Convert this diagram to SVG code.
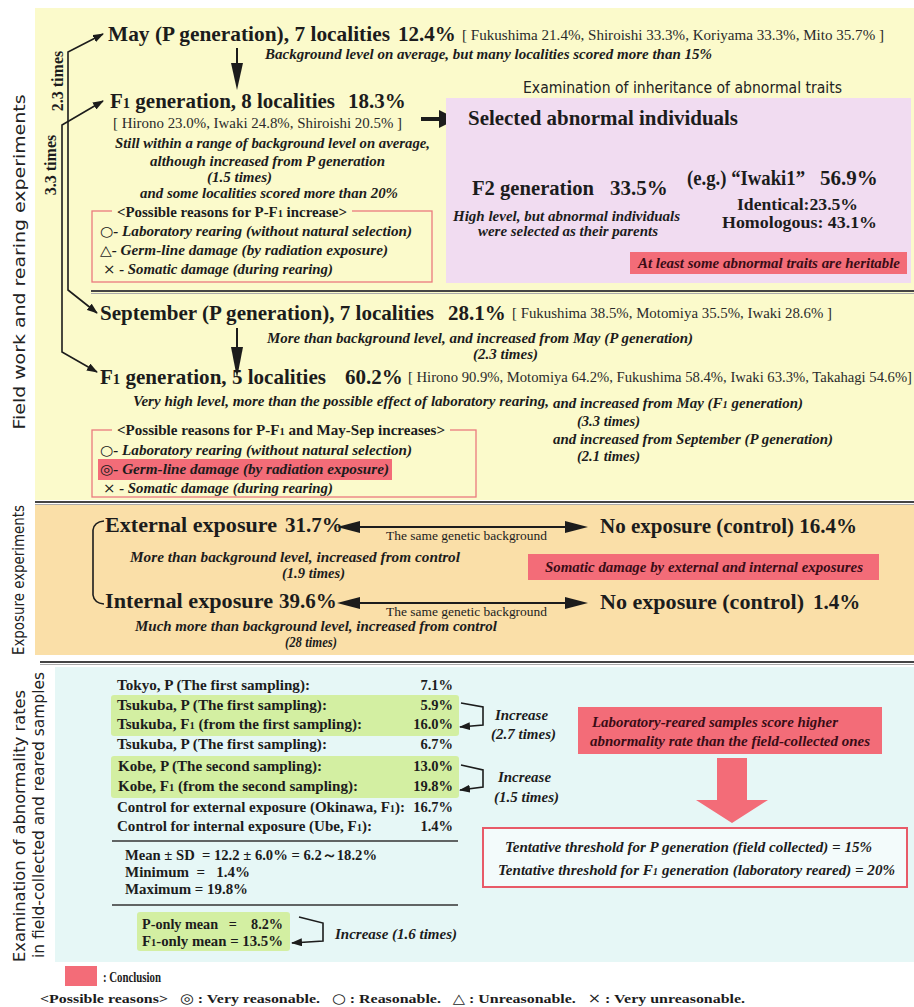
<svg xmlns="http://www.w3.org/2000/svg" width="914" height="1007" viewBox="0 0 914 1007">
<defs>
<style>
.t{font-family:"Liberation Serif","Times New Roman",serif;fill:#1c1c1c}
.h{font-size:21px;font-weight:bold}
.bi{font-size:14px;font-weight:bold;font-style:italic}
.r{font-size:14px;fill:#2a2a2a}
.b{font-size:14.5px;font-weight:bold}
.s{font-family:"DejaVu Sans",sans-serif;font-weight:normal;font-style:normal}
.lab{font-family:"DejaVu Sans","Noto Sans",sans-serif;fill:#222;font-size:15px}
.sub{font-size:70%}
.ln{stroke:#1c1c1c;stroke-width:1.6;fill:none}
.rb{fill:none;stroke:#ea7a7e;stroke-width:1.3}
.red{fill:#f36c78}
.grn{fill:#d3efa2}
.dred{fill:#3a0c16}
</style>
<marker id="ah" viewBox="0 0 11 8" refX="10" refY="4" markerWidth="11" markerHeight="8" markerUnits="userSpaceOnUse" orient="auto-start-reverse"><path d="M0,0 L11,4 L0,8 z" fill="#1c1c1c"/></marker>
</defs>

<g id="panels">
<rect x="35" y="8" width="879" height="492" fill="#fbfacb"/>
<rect x="35" y="505" width="879" height="150" fill="#fadfa8"/>
<rect x="55" y="667" width="859" height="295" fill="#e6f7f6"/>
<line x1="35" y1="502" x2="914" y2="502" stroke="#444" stroke-width="2"/>
<line x1="35" y1="504.5" x2="914" y2="504.5" stroke="#aaa" stroke-width="1"/>
<line x1="40" y1="662" x2="914" y2="662" stroke="#444" stroke-width="2"/>
<line x1="40" y1="664.5" x2="914" y2="664.5" stroke="#aaa" stroke-width="1"/>
<line x1="91" y1="291" x2="914" y2="291" stroke="#444" stroke-width="2"/>
<line x1="91" y1="293.5" x2="914" y2="293.5" stroke="#aaa" stroke-width="1"/>
</g>

<g id="side-labels">
<text class="lab" transform="translate(25,262) rotate(-90)" text-anchor="middle" textLength="335" lengthAdjust="spacingAndGlyphs">Field work and rearing experiments</text>
<text class="lab" transform="translate(24,580) rotate(-90)" text-anchor="middle" textLength="150" lengthAdjust="spacingAndGlyphs">Exposure experiments</text>
<text class="lab" transform="translate(25,826) rotate(-90)" text-anchor="middle" textLength="272" lengthAdjust="spacingAndGlyphs">Examination of abnormality rates</text>
<text class="lab" transform="translate(44,815) rotate(-90)" text-anchor="middle" textLength="286" lengthAdjust="spacingAndGlyphs">in field-collected and reared samples</text>
</g>

<g id="connectors">
<path class="ln" d="M103,34 L68,52 L68,290 L97,313" marker-start="url(#ah)" marker-end="url(#ah)"/>
<path class="ln" d="M103,101 L62,125 L62,352 L97,372" marker-start="url(#ah)" marker-end="url(#ah)"/>
<text class="t" font-size="16" font-weight="bold" transform="translate(63,81) rotate(-90)" text-anchor="middle">2.3 times</text>
<text class="t" font-size="16" font-weight="bold" transform="translate(56,165) rotate(-90)" text-anchor="middle">3.3 times</text>
<line x1="237" y1="48" x2="237" y2="66" stroke="#1c1c1c" stroke-width="2"/>
<polygon points="231,63 243,63 237,90" fill="#1c1c1c"/>
<line x1="237" y1="328" x2="237" y2="350" stroke="#1c1c1c" stroke-width="2"/>
<polygon points="231,347 243,347 237,378" fill="#1c1c1c"/>
<line x1="555" y1="135" x2="555" y2="150" stroke="#1c1c1c" stroke-width="2"/>
<polygon points="549,147 561,147 555,173" fill="#1c1c1c"/>
<line x1="421" y1="119" x2="442" y2="119" stroke="#1c1c1c" stroke-width="4"/>
<polygon points="439,110 439,128 457,119" fill="#1c1c1c"/>
<path class="ln" d="M104,521 Q94,522 93,530 L93,595 Q94,603 104,604" stroke-width="1.3"/>
<line x1="356" y1="527" x2="570" y2="527" stroke="#1c1c1c" stroke-width="2"/>
<polygon points="337,527 360,521 360,533" fill="#1c1c1c"/>
<polygon points="588,527 565,521 565,533" fill="#1c1c1c"/>
<line x1="356" y1="603" x2="570" y2="603" stroke="#1c1c1c" stroke-width="2"/>
<polygon points="337,603 360,597 360,609" fill="#1c1c1c"/>
<polygon points="588,603 565,597 565,609" fill="#1c1c1c"/>
<path class="ln" d="M461,703 L483,707 L483,725 L460,727" stroke-width="1.3" marker-end="url(#ah)"/>
<path class="ln" d="M461,765 L483,770 L483,787 L460,790" stroke-width="1.3" marker-end="url(#ah)"/>
<path class="ln" d="M299,917 L323,923 L323,941 L292,943" stroke-width="1.3" marker-end="url(#ah)"/>
<polygon class="red" points="717,758 747,758 747,800 768,800 732,823 696,800 717,800"/>
</g>

<g id="may">
<text class="t h" x="108" y="41" textLength="282" lengthAdjust="spacingAndGlyphs">May (P generation), 7 localities</text>
<text class="t h" x="398" y="41">12.4%</text>
<text class="t r" x="462" y="40" textLength="422" lengthAdjust="spacingAndGlyphs">[ Fukushima 21.4%, Shiroishi 33.3%, Koriyama 33.3%, Mito 35.7% ]</text>
<text class="t bi" x="265" y="59" textLength="447" lengthAdjust="spacingAndGlyphs">Background level on average, but many localities scored more than 15%</text>
</g>

<g id="f1-may">
<text class="t h" x="110" y="108" textLength="225" lengthAdjust="spacingAndGlyphs">F<tspan class="sub">1</tspan> generation, 8 localities</text>
<text class="t h" x="348" y="108">18.3%</text>
<text class="t r" x="113" y="128" textLength="289" lengthAdjust="spacingAndGlyphs">[ Hirono 23.0%, Iwaki 24.8%, Shiroishi 20.5% ]</text>
<text class="t bi" x="115" y="148" textLength="315" lengthAdjust="spacingAndGlyphs">Still within a range of background level on average,</text>
<text class="t bi" x="150" y="166" textLength="235" lengthAdjust="spacingAndGlyphs">although increased from P generation</text>
<text class="t bi" x="207" y="182" textLength="65" lengthAdjust="spacingAndGlyphs">(1.5 times)</text>
<text class="t bi" x="140" y="198" textLength="258" lengthAdjust="spacingAndGlyphs">and some localities scored more than 20%</text>
</g>

<g id="reasons-1">
<rect class="rb" x="92" y="211" width="340" height="71"/>
<rect x="112" y="204" width="240" height="14" fill="#fbfacb"/>
<text class="t" font-size="14.5" font-weight="bold" x="117" y="217" textLength="230" lengthAdjust="spacingAndGlyphs">&lt;Possible reasons for P-F<tspan class="sub">1</tspan> increase&gt;</text>
<text class="t bi" x="100" y="236" textLength="312" lengthAdjust="spacingAndGlyphs"><tspan class="s">○</tspan>- Laboratory rearing (without natural selection)</text>
<text class="t bi" x="100" y="255" textLength="288" lengthAdjust="spacingAndGlyphs"><tspan class="s">△</tspan>- Germ-line damage (by radiation exposure)</text>
<text class="t bi" x="103" y="274" textLength="230" lengthAdjust="spacingAndGlyphs"><tspan class="s">×</tspan> - Somatic damage (during rearing)</text>
</g>

<g id="inheritance">
<text class="lab" font-size="13" x="523" y="93" textLength="319" lengthAdjust="spacingAndGlyphs">Examination of inheritance of abnormal traits</text>
<rect x="446" y="98" width="465" height="185" fill="#f1dcf1"/>
<text class="t h" x="468" y="125" textLength="270" lengthAdjust="spacingAndGlyphs">Selected abnormal individuals</text>
<text class="t h" x="472" y="195" textLength="122" lengthAdjust="spacingAndGlyphs">F2 generation</text>
<text class="t h" x="610" y="195">33.5%</text>
<text class="t bi" x="453" y="221" textLength="227" lengthAdjust="spacingAndGlyphs">High level, but abnormal individuals</text>
<text class="t bi" x="478" y="236" textLength="180" lengthAdjust="spacingAndGlyphs">were selected as their parents</text>
<text class="t h" x="687" y="185" textLength="118" lengthAdjust="spacingAndGlyphs">(e.g.) “Iwaki1”</text>
<text class="t h" x="820" y="185">56.9%</text>
<text class="t" font-size="16" font-weight="bold" x="737" y="210" textLength="121" lengthAdjust="spacingAndGlyphs">Identical:23.5%</text>
<text class="t" font-size="16" font-weight="bold" x="722" y="228" textLength="155" lengthAdjust="spacingAndGlyphs">Homologous: 43.1%</text>
<rect class="red" x="630" y="252" width="277" height="22"/>
<text class="t bi dred" x="638" y="268" textLength="262" lengthAdjust="spacingAndGlyphs">At least some abnormal traits are heritable</text>
</g>

<g id="september">
<text class="t h" x="100" y="320" textLength="334" lengthAdjust="spacingAndGlyphs">September (P generation), 7 localities</text>
<text class="t h" x="448" y="320">28.1%</text>
<text class="t r" x="512" y="318" textLength="320" lengthAdjust="spacingAndGlyphs">[ Fukushima 38.5%, Motomiya 35.5%, Iwaki 28.6% ]</text>
<text class="t bi" x="267" y="343" textLength="426" lengthAdjust="spacingAndGlyphs">More than background level, and increased from May (P generation)</text>
<text class="t bi" x="473" y="359" textLength="65" lengthAdjust="spacingAndGlyphs">(2.3 times)</text>
</g>

<g id="f1-sep">
<text class="t h" x="100" y="384" textLength="226" lengthAdjust="spacingAndGlyphs">F<tspan class="sub">1</tspan> generation, 5 localities</text>
<text class="t h" x="345" y="384">60.2%</text>
<text class="t r" x="408" y="382" textLength="504" lengthAdjust="spacingAndGlyphs">[ Hirono 90.9%, Motomiya 64.2%, Fukushima 58.4%, Iwaki 63.3%, Takahagi 54.6%]</text>
<text class="t bi" x="133" y="406" textLength="416" lengthAdjust="spacingAndGlyphs">Very high level, more than the possible effect of laboratory rearing,</text>
<text class="t bi" x="553" y="408" textLength="250" lengthAdjust="spacingAndGlyphs">and increased from May (F<tspan class="sub">1</tspan> generation)</text>
<text class="t bi" x="577" y="426" textLength="63" lengthAdjust="spacingAndGlyphs">(3.3 times)</text>
<text class="t bi" x="553" y="444" textLength="280" lengthAdjust="spacingAndGlyphs">and increased from September (P generation)</text>
<text class="t bi" x="577" y="461" textLength="63" lengthAdjust="spacingAndGlyphs">(2.1 times)</text>
</g>

<g id="reasons-2">
<rect class="rb" x="92" y="430" width="384" height="67"/>
<rect x="112" y="423" width="338" height="14" fill="#fbfacb"/>
<text class="t" font-size="14.5" font-weight="bold" x="117" y="435" textLength="328" lengthAdjust="spacingAndGlyphs">&lt;Possible reasons for P-F<tspan class="sub">1</tspan> and May-Sep increases&gt;</text>
<text class="t bi" x="100" y="455" textLength="312" lengthAdjust="spacingAndGlyphs"><tspan class="s">○</tspan>- Laboratory rearing (without natural selection)</text>
<rect class="red" x="98" y="459" width="294" height="21"/>
<text class="t bi" x="100" y="474" textLength="289" lengthAdjust="spacingAndGlyphs"><tspan class="s">◎</tspan>- Germ-line damage (by radiation exposure)</text>
<text class="t bi" x="103" y="493" textLength="230" lengthAdjust="spacingAndGlyphs"><tspan class="s">×</tspan> - Somatic damage (during rearing)</text>
</g>

<g id="external">
<text class="t h" x="105" y="532" textLength="172" lengthAdjust="spacingAndGlyphs">External exposure</text>
<text class="t h" x="285" y="532">31.7%</text>
<text class="t" font-size="12.5" fill="#444" x="386" y="540" textLength="161" lengthAdjust="spacingAndGlyphs">The same genetic background</text>
<text class="t h" x="600" y="533" textLength="257" lengthAdjust="spacingAndGlyphs">No exposure (control) 16.4%</text>
<text class="t bi" x="130" y="562" textLength="330" lengthAdjust="spacingAndGlyphs">More than background level, increased from control</text>
<text class="t bi" x="282" y="578" textLength="63" lengthAdjust="spacingAndGlyphs">(1.9 times)</text>
</g>

<g id="internal">
<text class="t h" x="105" y="608" textLength="168" lengthAdjust="spacingAndGlyphs">Internal exposure</text>
<text class="t h" x="279" y="608">39.6%</text>
<text class="t" font-size="12.5" fill="#444" x="386" y="616" textLength="161" lengthAdjust="spacingAndGlyphs">The same genetic background</text>
<text class="t h" x="600" y="609" textLength="204" lengthAdjust="spacingAndGlyphs">No exposure (control)</text>
<text class="t h" x="813" y="609">1.4%</text>
<text class="t bi" x="135" y="631" textLength="362" lengthAdjust="spacingAndGlyphs">Much more than background level, increased from control</text>
<text class="t bi" x="285" y="647" textLength="52" lengthAdjust="spacingAndGlyphs">(28 times)</text>
</g>

<g id="somatic-conclusion">
<rect class="red" x="528" y="554" width="351" height="26"/>
<text class="t bi dred" x="545" y="572" textLength="318" lengthAdjust="spacingAndGlyphs">Somatic damage by external and internal exposures</text>
</g>

<g id="rates-table">
<rect class="grn" x="111" y="695" width="348" height="41" rx="3"/>
<rect class="grn" x="111" y="756" width="348" height="42" rx="3"/>
<text class="t b" x="117" y="690" textLength="193" lengthAdjust="spacingAndGlyphs">Tokyo, P (The first sampling):</text>
<text class="t b" x="453" y="690" text-anchor="end">7.1%</text>
<text class="t b" x="117" y="710" textLength="210" lengthAdjust="spacingAndGlyphs">Tsukuba, P (The first sampling):</text>
<text class="t b" x="453" y="710" text-anchor="end">5.9%</text>
<text class="t b" x="117" y="729" textLength="245" lengthAdjust="spacingAndGlyphs">Tsukuba, F<tspan class="sub">1</tspan> (from the first sampling):</text>
<text class="t b" x="453" y="729" text-anchor="end">16.0%</text>
<text class="t b" x="117" y="749" textLength="210" lengthAdjust="spacingAndGlyphs">Tsukuba, P (The first sampling):</text>
<text class="t b" x="453" y="749" text-anchor="end">6.7%</text>
<text class="t b" x="118" y="771" textLength="204" lengthAdjust="spacingAndGlyphs">Kobe, P (The second sampling):</text>
<text class="t b" x="453" y="771" text-anchor="end">13.0%</text>
<text class="t b" x="118" y="791" textLength="240" lengthAdjust="spacingAndGlyphs">Kobe, F<tspan class="sub">1</tspan> (from the second sampling):</text>
<text class="t b" x="453" y="791" text-anchor="end">19.8%</text>
<text class="t b" x="117" y="812" textLength="288" lengthAdjust="spacingAndGlyphs">Control for external exposure (Okinawa, F<tspan class="sub">1</tspan>):</text>
<text class="t b" x="453" y="812" text-anchor="end">16.7%</text>
<text class="t b" x="117" y="831" textLength="255" lengthAdjust="spacingAndGlyphs">Control for internal exposure (Ube, F<tspan class="sub">1</tspan>):</text>
<text class="t b" x="453" y="831" text-anchor="end">1.4%</text>
<line x1="112" y1="841" x2="458" y2="841" stroke="#333" stroke-width="1.5"/>
<text class="t b" xml:space="preserve" x="125" y="860" textLength="252" lengthAdjust="spacingAndGlyphs">Mean ± SD  = 12.2 ± 6.0% = 6.2～18.2%</text>
<text class="t b" xml:space="preserve" x="125" y="877" textLength="125" lengthAdjust="spacingAndGlyphs">Minimum  =   1.4%</text>
<text class="t b" x="125" y="894" textLength="123" lengthAdjust="spacingAndGlyphs">Maximum = 19.8%</text>
<line x1="112" y1="905" x2="458" y2="905" stroke="#333" stroke-width="1.5"/>
<rect class="grn" x="137" y="912" width="153" height="39" rx="3"/>
<text class="t b" xml:space="preserve" x="142" y="929" textLength="141" lengthAdjust="spacingAndGlyphs">P-only mean   =    8.2%</text>
<text class="t b" x="142" y="946" textLength="141" lengthAdjust="spacingAndGlyphs">F<tspan class="sub">1</tspan>-only mean = 13.5%</text>
<text class="t bi" x="335" y="939" textLength="122" lengthAdjust="spacingAndGlyphs">Increase (1.6 times)</text>
<text class="t bi" x="495" y="720" textLength="53" lengthAdjust="spacingAndGlyphs">Increase</text>
<text class="t bi" x="491" y="739" textLength="65" lengthAdjust="spacingAndGlyphs">(2.7 times)</text>
<text class="t bi" x="498" y="782" textLength="53" lengthAdjust="spacingAndGlyphs">Increase</text>
<text class="t bi" x="494" y="802" textLength="65" lengthAdjust="spacingAndGlyphs">(1.5 times)</text>
</g>

<g id="lab-conclusion">
<rect class="red" x="578" y="707" width="304" height="47"/>
<text class="t bi dred" x="592" y="727" textLength="246" lengthAdjust="spacingAndGlyphs">Laboratory-reared samples score higher</text>
<text class="t bi dred" x="590" y="746" textLength="280" lengthAdjust="spacingAndGlyphs">abnormality rate than the field-collected ones</text>
</g>

<g id="threshold">
<rect x="483" y="828" width="424" height="59" fill="#f3fbfb" stroke="#e85a68" stroke-width="2"/>
<text class="t bi" x="505" y="852" textLength="367" lengthAdjust="spacingAndGlyphs">Tentative threshold for P generation (field collected) = 15%</text>
<text class="t bi" x="498" y="875" textLength="397" lengthAdjust="spacingAndGlyphs">Tentative threshold for F<tspan class="sub">1</tspan> generation (laboratory reared) = 20%</text>
</g>

<g id="legend">
<rect class="red" x="65" y="966" width="32" height="20"/>
<text class="t" font-size="14" font-weight="bold" x="103" y="982" textLength="58" lengthAdjust="spacingAndGlyphs">: Conclusion</text>
<text class="t" font-size="13.5" font-weight="bold" xml:space="preserve" x="40" y="1003" textLength="705" lengthAdjust="spacingAndGlyphs">&lt;Possible reasons&gt;   <tspan class="s">◎</tspan> : Very reasonable.   <tspan class="s">○</tspan> : Reasonable.   <tspan class="s">△</tspan> : Unreasonable.   <tspan class="s">×</tspan> : Very unreasonable.</text>
</g>
</svg>
